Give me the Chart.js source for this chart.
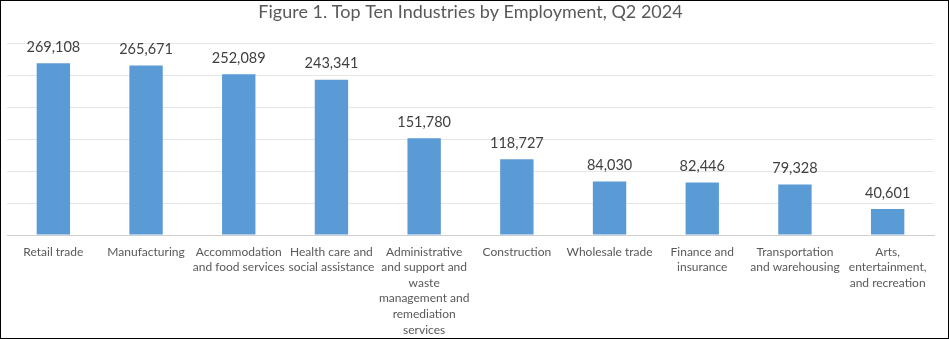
<!DOCTYPE html>
<html>
<head>
<meta charset="utf-8">
<script src="https://cdn.jsdelivr.net/npm/chart.js@4.4.1/dist/chart.umd.min.js"></script>
<style>
  html, body { margin: 0; padding: 0; background: #fff; }
  #wrap { width: 947px; height: 337px; border: 1px solid #000; position: relative; }
</style>
</head>
<body>
<div id="wrap"><canvas id="chartEmpleo" width="947" height="337"></canvas></div>
<script>
// datos
const industries = [
  'Retail trade',
  'Manufacturing',
  ['Accommodation', 'and food services'],
  ['Health care and', 'social assistance'],
  ['Administrative', 'and support and', 'waste', 'management and', 'remediation', 'services'],
  'Construction',
  'Wholesale trade',
  ['Finance and', 'insurance'],
  ['Transportation', 'and warehousing'],
  ['Arts,', 'entertainment,', 'and recreation']
];
const employment = [269108, 265671, 252089, 243341, 151780, 118727, 84030, 82446, 79328, 40601];

const FONT = 'Lato';
const GREY = '#595959';

// etiquetas encima de cada barra
const barLabels = {
  id: 'barLabels',
  afterDatasetsDraw(chart) {
    const ctx = chart.ctx;
    ctx.save();
    ctx.font = '14.5px ' + FONT;
    ctx.fillStyle = '#404040';
    ctx.textAlign = 'center';
    ctx.textBaseline = 'middle';
    chart.getDatasetMeta(0).data.forEach((bar, i) => {
      ctx.fillText(employment[i].toLocaleString('en-US'), bar.x, bar.y - 16);
    });
    ctx.restore();
  }
};

new Chart(document.getElementById('chartEmpleo'), {
  type: 'bar',
  data: {
    labels: industries,
    datasets: [{
      data: employment,
      backgroundColor: '#5B9BD5',
      barPercentage: 0.36,
      categoryPercentage: 1
    }]
  },
  options: {
    responsive: false,
    animation: false,
    layout: { padding: { left: 6, right: 14, top: 0, bottom: 0 } },
    plugins: {
      legend: { display: false },
      tooltip: { enabled: false },
      title: {
        display: true,
        text: 'Figure 1. Top Ten Industries by Employment, Q2 2024',
        color: GREY,
        font: { family: FONT, size: 18, weight: 'normal' },
        padding: { top: 0, bottom: 21 }
      }
    },
    scales: {
      y: {
        min: 0,
        max: 300000,
        ticks: { display: false, stepSize: 50000 },
        grid: { color: '#E6E6E6', drawTicks: false },
        border: { display: false }
      },
      x: {
        grid: { display: false, drawTicks: false },
        border: { color: '#D0D0D0' },
        ticks: {
          color: GREY,
          font: { family: FONT, size: 12, lineHeight: 1.3 },
          maxRotation: 0,
          autoSkip: false,
          padding: 9
        },
        afterFit(scale) { scale.height = 103; }
      }
    }
  },
  plugins: [barLabels]
});
</script>
</body>
</html>
